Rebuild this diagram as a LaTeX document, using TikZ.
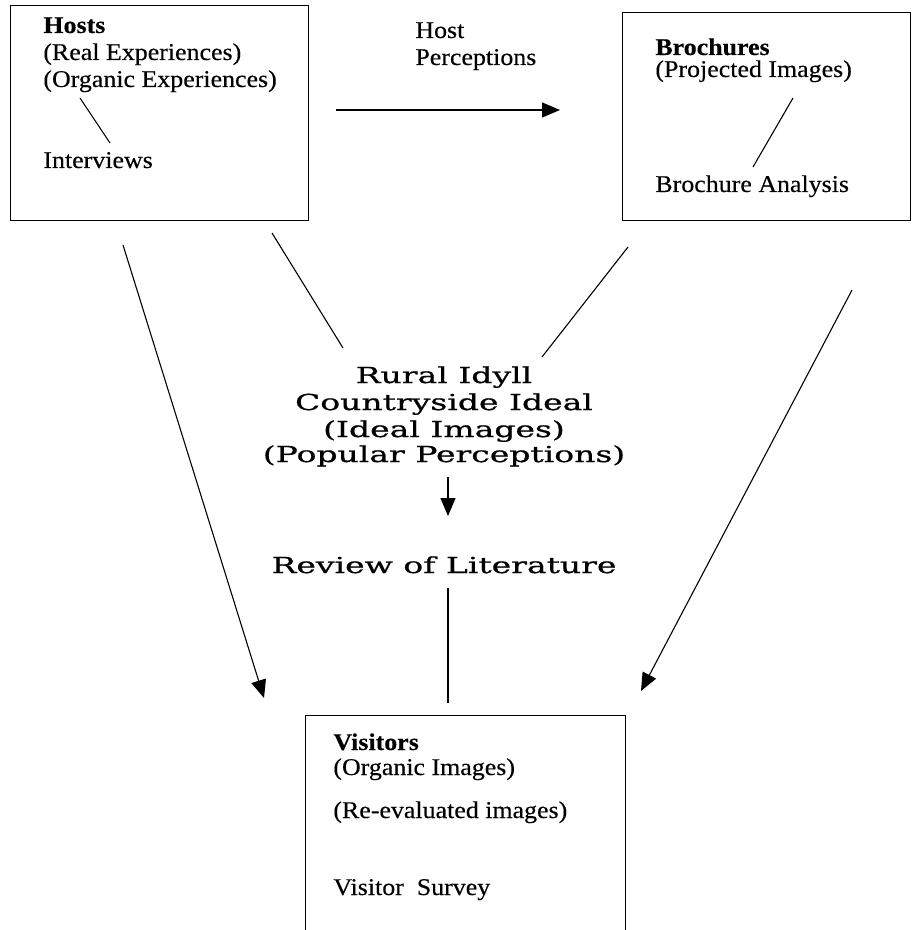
\documentclass[tikz,border=0pt]{standalone}
\usepackage{fontspec}
\setmainfont{Liberation Serif}[FakeStretch=1.08, FakeBold=0.3]
\newfontfamily\widefont{DejaVu Serif}[FakeStretch=1.5, FakeBold=0.8]
\usetikzlibrary{arrows.meta}

\tikzset{
  box/.style={draw, line width=0.7pt, rectangle, inner sep=0pt, anchor=north west},
  lbl/.style={anchor=base west, inner sep=0pt, font=\fontsize{12pt}{13.5pt}\selectfont},
  mid/.style={anchor=base, inner sep=0pt, font=\widefont\fontsize{11pt}{13pt}\selectfont},
  link/.style={line width=0.55pt},
  flow/.style={line width=0.55pt, -{Triangle[length=9pt,width=7.5pt]}}
}

\begin{document}
\begin{tikzpicture}[x=0.5pt, y=-0.5pt]
  \clip (0,0) rectangle (913,930);
  \fill[white] (0,0) rectangle (913,930);

  % three boxes
  \node[box, minimum width=149pt, minimum height=107.5pt] (hosts) at (10,5) {};
  \node[box, minimum width=144pt, minimum height=104pt] (brochures) at (622,12) {};
  \node[box, minimum width=160pt, minimum height=120pt] (visitors) at (305,715) {};

  % hosts box text
  \node[lbl] (hostsT) at (43,33) {\textbf{Hosts}};
  \node[lbl] (hostsR) at (43,60) {(Real Experiences)};
  \node[lbl] (hostsO) at (43,87) {(Organic Experiences)};
  \node[lbl] (interviews) at (43,168) {Interviews};

  % label over the top arrow
  \node[lbl] (hostP1) at (415,38) {Host};
  \node[lbl] (hostP2) at (415,65) {Perceptions};

  % brochures box text
  \node[lbl] (brochT) at (655,55) {\textbf{Brochures}};
  \node[lbl] (brochP) at (655,77) {(Projected Images)};
  \node[lbl] (brochA) at (655,192) {Brochure Analysis};

  % central ideal images
  \node[mid] (idyll1) at (444,383) {Rural Idyll};
  \node[mid] (idyll2) at (444,410) {Countryside Ideal};
  \node[mid] (idyll3) at (444,437) {(Ideal Images)};
  \node[mid] (idyll4) at (444,462) {(Popular Perceptions)};
  \node[mid] (review) at (444,573) {Review of Literature};

  % visitors box text
  \node[lbl] (visT) at (333,750) {\textbf{Visitors}};
  \node[lbl] (visO) at (333,775) {(Organic Images)};
  \node[lbl] (visR) at (333,818) {(Re-evaluated images)};
  \node[lbl] (visS) at (333,895) {Visitor\ \ Survey};

  % free ends of the connectors
  \coordinate (hi1) at (80,98);
  \coordinate (hi2) at (110,143);
  \coordinate (bi1) at (793,98);
  \coordinate (bi2) at (753,167);
  \coordinate (pa1) at (336,110);
  \coordinate (pa2) at (560,110);
  \coordinate (hm1) at (272,233);
  \coordinate (hm2) at (343,348);
  \coordinate (bm1) at (628,247);
  \coordinate (bm2) at (542,357);
  \coordinate (hv1) at (123,245);
  \coordinate (hv2) at (264,698);
  \coordinate (bv1) at (852,290);
  \coordinate (bv2) at (641,691);
  \coordinate (ir1) at (448,477);
  \coordinate (ir2) at (448,516);
  \coordinate (rv1) at (448,588);
  \coordinate (rv2) at (448,703);

  % connectors
  \draw[link] (hi1) -- (hi2);
  \draw[link] (bi1) -- (bi2);
  \draw[flow] (pa1) -- (pa2);
  \draw[link] (hm1) -- (hm2);
  \draw[link] (bm1) -- (bm2);
  \draw[flow] (hv1) -- (hv2);
  \draw[flow] (bv1) -- (bv2);
  \draw[flow] (ir1) -- (ir2);
  \draw[link] (rv1) -- (rv2);
\end{tikzpicture}
\end{document}
